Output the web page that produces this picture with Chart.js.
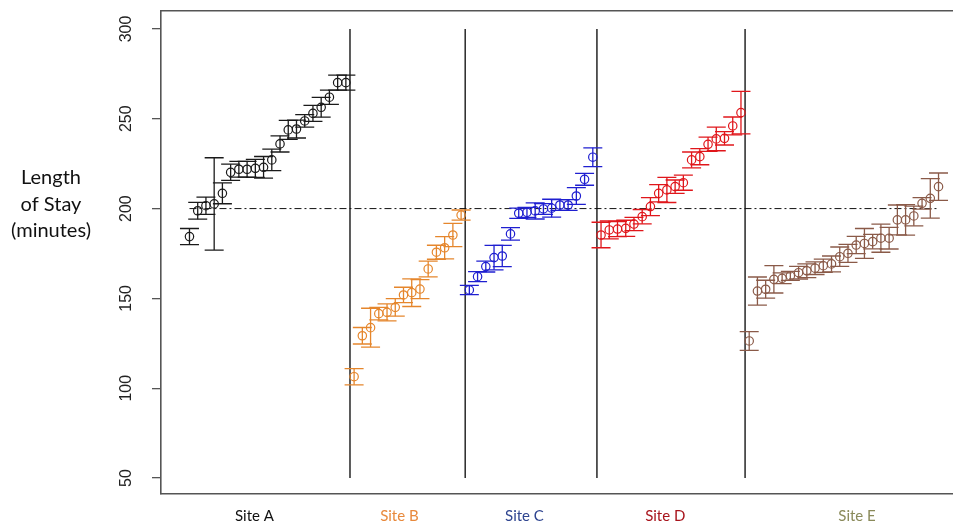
<!DOCTYPE html>
<html>
<head>
<meta charset="utf-8">
<script src="https://cdn.jsdelivr.net/npm/chart.js@4/dist/chart.umd.min.js"></script>
<style>
  html, body { margin: 0; padding: 0; background: #fff; overflow: hidden; }
  #wrap { width: 975px; height: 525px; }
</style>
</head>
<body>
<div id="wrap"><canvas id="c" width="975" height="525"></canvas></div>
<script>
// ---- data ----
const siteNames = ["Site A", "Site B", "Site C", "Site D", "Site E"];
const siteColors = ["#1a1a1a", "#E5862C", "#1F1FD0", "#E0161B", "#8A5A48"];
const siteLabelColors = ["#111111", "#E8893C", "#2F4590", "#A8141C", "#8A8A5A"];

const siteAMean = [184.4, 198.8, 201.6, 202.6, 208.5, 220.2, 221.9, 221.9, 222.4, 223.0, 227.1, 236.0, 243.8, 244.3, 248.8, 253.0, 256.4, 262.0, 270.1, 270.1];
const siteAErr  = [4.5, 4.7, 4.8, 25.7, 5.8, 4.5, 4.4, 4.4, 5.0, 6.0, 6.0, 4.5, 5.3, 5.0, 3.5, 4.5, 5.5, 4.0, 4.2, 4.2];

const siteBMean = [106.4, 129.2, 133.7, 141.5, 142.2, 145.0, 151.9, 153.2, 155.2, 166.4, 175.7, 178.2, 185.3, 196.4];
const siteBErr  = [4.5, 4.6, 10.8, 3.5, 4.7, 4.9, 4.3, 7.7, 5.3, 4.4, 3.9, 6.2, 6.5, 2.8];

const siteCMean = [154.7, 162.1, 167.7, 172.7, 173.6, 185.9, 197.4, 197.9, 198.7, 199.8, 200.2, 202.0, 202.0, 207.0, 216.3, 228.6];
const siteCErr  = [2.6, 2.8, 3.0, 6.8, 5.9, 3.5, 2.9, 2.8, 4.5, 3.0, 5.0, 3.0, 3.0, 4.7, 3.3, 5.2];

const siteDMean = [185.3, 188.1, 188.6, 189.0, 191.4, 195.5, 201.1, 208.5, 210.4, 212.2, 214.4, 227.1, 228.9, 235.8, 238.8, 239.1, 246.0, 253.4];
const siteDErr  = [7.1, 5.0, 4.2, 4.5, 3.7, 4.0, 5.0, 4.8, 7.0, 3.7, 4.2, 4.4, 4.5, 4.0, 6.6, 3.7, 5.0, 11.8];

const siteEMean = [126.3, 154.1, 155.1, 160.6, 161.2, 162.5, 164.3, 165.4, 166.8, 168.2, 169.2, 173.2, 175.1, 179.7, 180.6, 181.6, 183.5, 183.5, 193.7, 193.7, 195.9, 202.9, 205.7, 212.2];
const siteEErr  = [5.2, 7.8, 5.0, 7.6, 3.0, 2.5, 3.5, 3.8, 3.5, 3.7, 4.4, 5.4, 5.0, 4.8, 8.3, 4.0, 7.8, 6.0, 8.3, 8.5, 5.5, 3.2, 11.0, 7.6];

const referenceValue = 200;
const yTickValues = [50, 100, 150, 200, 250, 300];
const yTitleLines = ["Length", "of Stay", "(minutes)"];

// ---- build datasets ----
const means = [siteAMean, siteBMean, siteCMean, siteDMean, siteEMean];
const errs  = [siteAErr, siteBErr, siteCErr, siteDErr, siteEErr];

const datasets = [];
let offset = 0;
const separators = [];
means.forEach((m, s) => {
  const col = siteColors[s];
  const stems = [], caps = [], pts = [];
  m.forEach((v, i) => {
    const x = offset + i, e = errs[s][i];
    stems.push({x: x, y: v - e}, {x: x, y: v + e}, {x: x, y: null});
    caps.push({x: x, y: v - e}, {x: x, y: v + e});
    pts.push({x: x, y: v});
  });
  datasets.push({type: 'line', data: stems, borderColor: col, borderWidth: 1.3, pointRadius: 0, spanGaps: false, order: 3});
  datasets.push({type: 'scatter', data: caps, pointStyle: 'line', pointRadius: 9.5, borderColor: col, borderWidth: 1.3, order: 2});
  datasets.push({type: 'scatter', data: pts, pointStyle: 'circle', pointRadius: 4.2, borderColor: col, backgroundColor: 'rgba(0,0,0,0)', borderWidth: 1.2, order: 1});
  offset += m.length;
  if (s < means.length - 1) separators.push(offset - 0.5);
});
const lastIndex = offset - 1;

// separator lines
const sepData = [];
separators.forEach(x => { sepData.push({x: x, y: yTickValues[0]}, {x: x, y: yTickValues[yTickValues.length - 1]}, {x: x, y: null}); });
datasets.push({type: 'line', data: sepData, borderColor: '#333333', borderWidth: 1.6, pointRadius: 0, spanGaps: false, order: 5});

// reference line
datasets.push({type: 'line', data: [{x: 0, y: referenceValue}, {x: lastIndex, y: referenceValue}], borderColor: '#111', borderWidth: 1, borderDash: [7, 3, 2, 3], pointRadius: 0, order: 4});

// site label positions (in index units on the x scale)
const siteLabelPos = [7.9, 25.5, 40.7, 57.8, 81.1];

const textPlugin = {
  id: 'textPlugin',
  afterDraw(chart) {
    const ctx = chart.ctx;
    const y = chart.scales.y;
    ctx.save();
    ctx.fillStyle = '#222';
    ctx.font = '16px "Liberation Sans", Arial, sans-serif';
    ctx.textAlign = 'center';
    ctx.textBaseline = 'middle';
    yTickValues.forEach(v => {
      const py = y.getPixelForValue(v);
      ctx.save();
      ctx.translate(127, py);
      ctx.rotate(-Math.PI / 2);
      ctx.fillText(String(v), 0, 0);
      ctx.restore();
    });
    ctx.fillStyle = '#111';
    ctx.font = '20px Lato, "Open Sans", sans-serif';
    const lineY = [178, 205, 231];
    yTitleLines.forEach((t, i) => ctx.fillText(t, 51, lineY[i]));
    ctx.restore();
  }
};

new Chart(document.getElementById('c'), {
  type: 'scatter',
  data: {datasets: datasets},
  plugins: [textPlugin],
  options: {
    responsive: false,
    animation: false,
    devicePixelRatio: 1,
    events: [],
    layout: {padding: {top: 11, left: 0, right: 7, bottom: 0}},
    plugins: {legend: {display: false}, tooltip: {enabled: false}},
    scales: {
      x: {
        type: 'linear', position: 'bottom',
        min: -3.46, max: 94.12,
        grid: {display: false, drawTicks: false},
        border: {display: true, color: '#555', width: 1.6},
        afterBuildTicks: s => { s.ticks = siteLabelPos.map(v => ({value: v})); },
        afterFit: s => { s.height = 31; },
        ticks: {
          autoSkip: false, maxRotation: 0, minRotation: 0, padding: 13,
          font: {family: 'Lato, "Open Sans", sans-serif', size: 15},
          color: ctx => siteLabelColors[ctx.index],
          callback: (v, i) => siteNames[i]
        }
      },
      xTop: {
        type: 'linear', position: 'top', min: -3.46, max: 94.12,
        ticks: {display: false},
        grid: {display: false, drawTicks: false},
        border: {display: true, color: '#555', width: 1.6},
        afterFit: s => { s.height = 0; }
      },
      y: {
        type: 'linear', position: 'left',
        min: 41.1, max: 310,
        afterBuildTicks: s => { s.ticks = yTickValues.map(v => ({value: v})); },
        afterFit: s => { s.width = 161; },
        ticks: {display: false},
        grid: {drawOnChartArea: false, drawTicks: true, tickLength: 9, color: '#555', lineWidth: 1.3},
        border: {display: true, color: '#555', width: 1.6}
      }
    }
  }
});
</script>
</body>
</html>
